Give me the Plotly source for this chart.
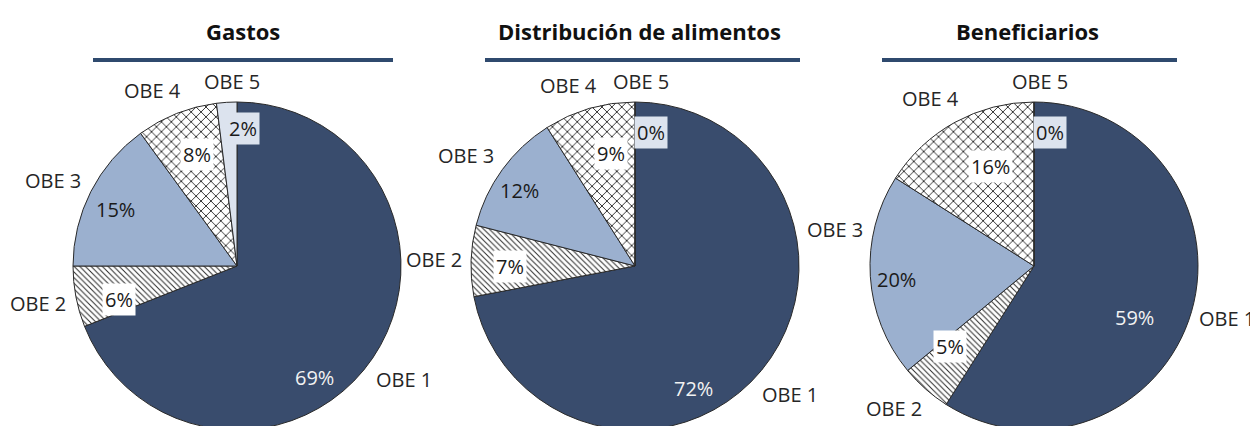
import math
import plotly.graph_objects as go

# ---- data ----
LABELS = ["OBE 1", "OBE 2", "OBE 3", "OBE 4", "OBE 5"]
TITLES = ["Gastos", "Distribución de alimentos", "Beneficiarios"]
GASTOS = [69, 6, 15, 8, 2]
DISTRIBUCION = [72, 7, 12, 9, 0]
BENEFICIARIOS = [59, 5, 20, 16, 0]
SERIES = [GASTOS, DISTRIBUCION, BENEFICIARIOS]

# ---- layout / style ----
W, H = 1258, 426
OFF = 8  # page body margin offset
CX = [237 - OFF, 635 - OFF, 1034 - OFF]
CY = 266 - OFF
R = 164
FONT = "Open Sans"
COLORS = ["#394C6D", "#FFFFFF", "#9BB0CF", "#FFFFFF", "#DCE3EE"]
SHAPES = ["", "\\", "", "x", ""]
PAT_SIZE = [6, 4, 6, 7, 6]
PCT_BG = ["rgba(0,0,0,0)", "#FFFFFF", "rgba(0,0,0,0)", "#FFFFFF", "#DCE3EE"]
PCT_COLOR = ["#F2F2F2", "#1A1A1A", "#1A1A1A", "#1A1A1A", "#1A1A1A"]
TITLE_X = [243 - OFF, 640 - OFF, 1027 - OFF]
TITLE_Y = 31 - OFF
RULE_Y = 60 - OFF
RULES = [(93 - OFF, 393 - OFF), (485 - OFF, 800 - OFF), (882 - OFF, 1177 - OFF)]
# label placement tweaks (degrees / radius fractions)
OUT_SHIFT = [[0, 0, -2, -4, 2], [0, 0, -3, -4, 2], [-1, 3, 14, -3, 2]]
OUT_GAP = [[10, 10, 10, 10, 10], [10, 10, 10, 10, 10], [7, 10, 10, 10, 10]]
PCT_SHIFT = [[21, -5, -2, 2, 6], [25, -2, -3, 4, 7], [11, 5, -2, 5, 7]]
PCT_RAD = [[0.83, 0.75, 0.82, 0.72, 0.84],
           [0.83, 0.76, 0.84, 0.70, 0.82],
           [0.69, 0.71, 0.84, 0.66, 0.82]]

fig = go.Figure()
annotations = []
shapes = []

for i, vals in enumerate(SERIES):
    cx = CX[i]
    fig.add_trace(go.Pie(
        labels=LABELS, values=vals, sort=False, direction="clockwise", rotation=0,
        textinfo="none", hoverinfo="label+percent", showlegend=False,
        domain=dict(x=[(cx - R) / W, (cx + R) / W],
                    y=[(H - (CY + R)) / H, (H - (CY - R)) / H]),
        marker=dict(colors=COLORS, line=dict(color="#2A2A2A", width=1),
                    pattern=dict(shape=SHAPES, fgcolor="#2A2A2A", bgcolor=COLORS,
                                 size=PAT_SIZE, solidity=0.25, fillmode="replace")),
    ))
    total = float(sum(vals))
    cum = 0.0
    for j, v in enumerate(vals):
        mid = (cum + v / 2.0) / total * 360.0
        cum += v
        # outside category label
        th = math.radians(mid + OUT_SHIFT[i][j])
        s, c = math.sin(th), math.cos(th)
        dist = R + OUT_GAP[i][j] + abs(s) * 27 + abs(c) * 10
        x = cx + dist * s
        y = CY - dist * c
        annotations.append(dict(x=x / W, y=1 - y / H, xref="paper", yref="paper",
                                text=LABELS[j], showarrow=False, xanchor="center",
                                yanchor="middle",
                                font=dict(family=FONT, size=20, color="#262626")))
        # percentage label
        th = math.radians(mid + PCT_SHIFT[i][j])
        dist = R * PCT_RAD[i][j]
        x = cx + dist * math.sin(th)
        y = CY - dist * math.cos(th)
        annotations.append(dict(x=x / W, y=1 - y / H, xref="paper", yref="paper",
                                text=f"{v}%", showarrow=False, xanchor="center",
                                yanchor="middle", bgcolor=PCT_BG[j], borderpad=2,
                                font=dict(family=FONT, size=20, color=PCT_COLOR[j])))
    # title and rule
    annotations.append(dict(x=TITLE_X[i] / W, y=1 - TITLE_Y / H, xref="paper", yref="paper",
                            text=f"<b>{TITLES[i]}</b>", showarrow=False,
                            xanchor="center", yanchor="middle",
                            font=dict(family=FONT, size=22, color="#111111")))
    x0, x1 = RULES[i]
    shapes.append(dict(type="line", xref="paper", yref="paper",
                       x0=x0 / W, x1=x1 / W, y0=1 - RULE_Y / H, y1=1 - RULE_Y / H,
                       line=dict(color="#2F4A6E", width=4)))

fig.update_layout(width=W, height=H, margin=dict(l=0, r=0, t=0, b=0),
                  paper_bgcolor="white", plot_bgcolor="white",
                  annotations=annotations, shapes=shapes)
fig.write_html("out.html")
